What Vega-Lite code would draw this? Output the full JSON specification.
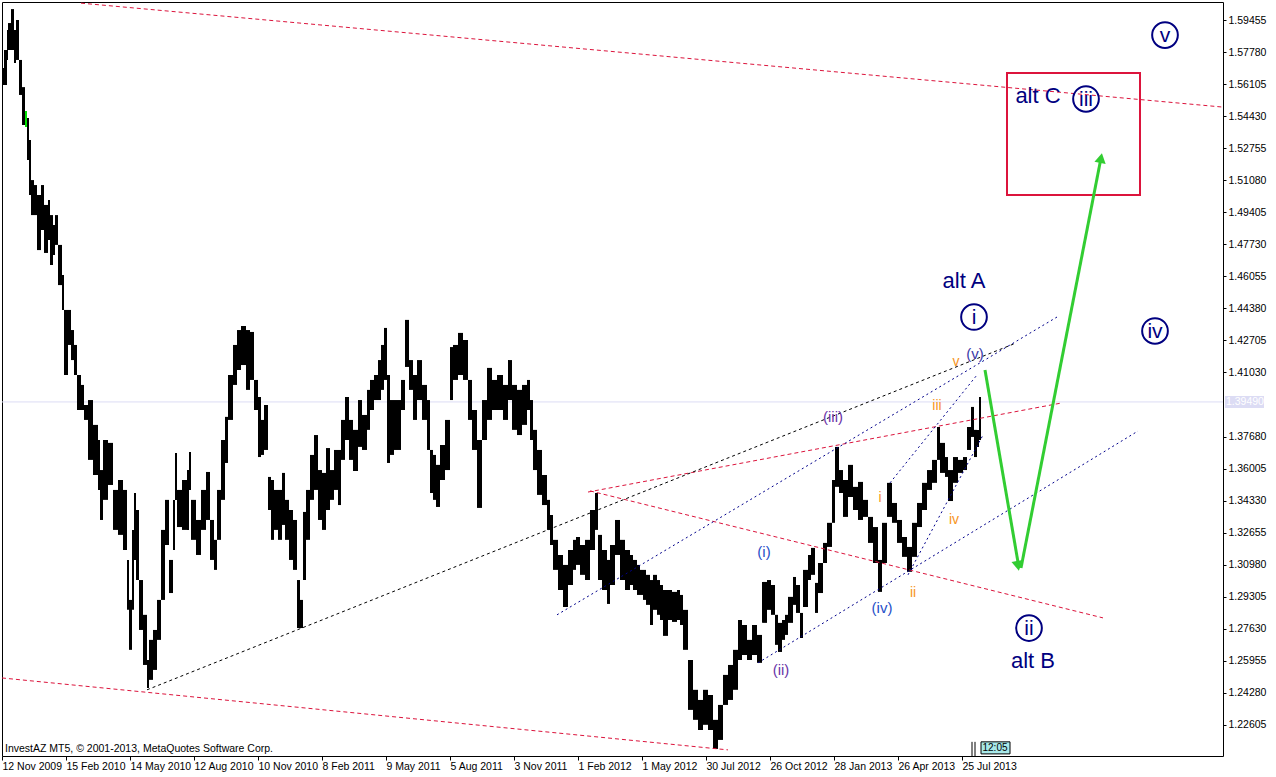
{
"$schema":"https://vega.github.io/schema/vega-lite/v6.json",
"width":1221,"height":754,"autosize":"none",
"padding":{"left":2,"top":2,"right":53,"bottom":21},
"background":"white",
"config":{"view":{"stroke":"black","strokeWidth":1},"font":"Liberation Sans",
"axis":{"labelFont":"Liberation Sans","labelFontSize":10.5,"labelColor":"black","tickColor":"black","domain":false,"grid":false,"title":null}},
"encoding":{
"x":{"field":"x","type":"quantitative","scale":{"domain":[0,1221],"nice":false,"zero":false},
"axis":{"orient":"bottom","values":[0,64,128,192,256,320,384,448,512,576,640,704,768,832,896,960],"tickSize":4,"labelAlign":"left","labelDx":2,"labelPadding":1,"labelBaseline":"top","labelFlush":false,"labelOverlap":false,"labelBound":false,
"labelExpr":"['12 Nov 2009','15 Feb 2010','14 May 2010','12 Aug 2010','10 Nov 2010','8 Feb 2011','9 May 2011','5 Aug 2011','3 Nov 2011','1 Feb 2012','1 May 2012','30 Jul 2012','26 Oct 2012','28 Jan 2013','26 Apr 2013','25 Jul 2013'][round(datum.value/64)]"}},
"y":{"field":"y","type":"quantitative","scale":{"domain":[1.2098,1.6040],"nice":false,"zero":false},
"axis":{"orient":"right","values":[1.22605,1.2428,1.25955,1.2763,1.29305,1.3098,1.32655,1.3433,1.36005,1.3768,1.4103,1.42705,1.4438,1.46055,1.4773,1.49405,1.5108,1.52755,1.5443,1.56105,1.5778,1.59455],"format":".5f","tickSize":3,"labelPadding":2,"labelOverlap":false,"labelFlush":false,"labelBound":false}}
},
"layer":[
{"data":{"values":[{"x":0,"x2":1221,"y":1.3949}]},"mark":{"type":"rule","color":"#dcdcf4","strokeWidth":1},"encoding":{"x2":{"field":"x2"}}},
{"data":{"values":[
{"x":0,"x2":2,"y":1.5695,"y2":1.5606},{"x":2,"x2":5,"y":1.5789,"y2":1.5606},{"x":5,"x2":6,"y":1.5893,"y2":1.5737},{"x":6,"x2":9,"y":1.5930,"y2":1.5789},{"x":9,"x2":12,"y":1.6003,"y2":1.5789},{"x":12,"x2":14,"y":1.5893,"y2":1.5721},{"x":14,"x2":17,"y":1.5946,"y2":1.5737},{"x":17,"x2":20,"y":1.5737,"y2":1.5554},{"x":20,"x2":23,"y":1.5595,"y2":1.5397},{"x":25,"x2":27,"y":1.5433,"y2":1.5214},{"x":27,"x2":29,"y":1.5318,"y2":1.5031},{"x":29,"x2":32,"y":1.5109,"y2":1.4926},{"x":32,"x2":35,"y":1.5083,"y2":1.4926},{"x":35,"x2":39,"y":1.5031,"y2":1.4743},{"x":39,"x2":42,"y":1.5083,"y2":1.4848},{"x":42,"x2":46,"y":1.4979,"y2":1.4728},{"x":46,"x2":48,"y":1.5005,"y2":1.4796},{"x":48,"x2":51,"y":1.4926,"y2":1.4665},{"x":51,"x2":53,"y":1.4874,"y2":1.4717},{"x":53,"x2":56,"y":1.4926,"y2":1.4770},{"x":56,"x2":60,"y":1.4770,"y2":1.4560},{"x":60,"x2":62,"y":1.4613,"y2":1.4430},{"x":62,"x2":66,"y":1.4430,"y2":1.4090},{"x":66,"x2":69,"y":1.4430,"y2":1.4247},{"x":69,"x2":72,"y":1.4325,"y2":1.4168},{"x":72,"x2":75,"y":1.4247,"y2":1.4090},{"x":75,"x2":79,"y":1.4090,"y2":1.3907},{"x":79,"x2":82,"y":1.4038,"y2":1.3907},{"x":82,"x2":86,"y":1.3933,"y2":1.3855},{"x":86,"x2":91,"y":1.3959,"y2":1.3646},{"x":91,"x2":96,"y":1.3829,"y2":1.3567},{"x":96,"x2":98,"y":1.3750,"y2":1.3489},{"x":98,"x2":101,"y":1.3593,"y2":1.3332},{"x":101,"x2":106,"y":1.3750,"y2":1.3437},{"x":106,"x2":111,"y":1.3735,"y2":1.3515},{"x":111,"x2":116,"y":1.3489,"y2":1.3280},{"x":116,"x2":121,"y":1.3541,"y2":1.3254},{"x":121,"x2":125,"y":1.3489,"y2":1.3175},{"x":125,"x2":127,"y":1.3123,"y2":1.2862},{"x":127,"x2":130,"y":1.2914,"y2":1.2653},{"x":130,"x2":132,"y":1.3280,"y2":1.2862},{"x":132,"x2":134,"y":1.3473,"y2":1.3123},{"x":134,"x2":137,"y":1.3384,"y2":1.3018},{"x":137,"x2":141,"y":1.3018,"y2":1.2757},{"x":141,"x2":145,"y":1.2836,"y2":1.2574},{"x":145,"x2":147,"y":1.2600,"y2":1.2454},{"x":147,"x2":151,"y":1.2705,"y2":1.2496},{"x":151,"x2":155,"y":1.2757,"y2":1.2548},{"x":155,"x2":159,"y":1.2914,"y2":1.2705},{"x":159,"x2":163,"y":1.3280,"y2":1.2914},{"x":163,"x2":167,"y":1.3437,"y2":1.3201},{"x":167,"x2":171,"y":1.3123,"y2":1.2950},{"x":171,"x2":173,"y":1.3437,"y2":1.3175},{"x":173,"x2":175,"y":1.3682,"y2":1.3437},{"x":175,"x2":180,"y":1.3489,"y2":1.3295},{"x":180,"x2":185,"y":1.3541,"y2":1.3280},{"x":185,"x2":187,"y":1.3593,"y2":1.3280},{"x":187,"x2":189,"y":1.3688,"y2":1.3489},{"x":189,"x2":194,"y":1.3437,"y2":1.3228},{"x":194,"x2":199,"y":1.3332,"y2":1.3149},{"x":199,"x2":204,"y":1.3489,"y2":1.3280},{"x":204,"x2":208,"y":1.3583,"y2":1.3332},{"x":208,"x2":212,"y":1.3332,"y2":1.3123},{"x":212,"x2":215,"y":1.3228,"y2":1.3071},{"x":215,"x2":219,"y":1.3489,"y2":1.3228},{"x":219,"x2":223,"y":1.3750,"y2":1.3437},{"x":223,"x2":226,"y":1.3871,"y2":1.3630},{"x":226,"x2":231,"y":1.4090,"y2":1.3855},{"x":231,"x2":235,"y":1.4247,"y2":1.4038},{"x":235,"x2":239,"y":1.4325,"y2":1.4116},{"x":239,"x2":244,"y":1.4346,"y2":1.4142},{"x":244,"x2":248,"y":1.4325,"y2":1.4012},{"x":248,"x2":252,"y":1.4315,"y2":1.4064},{"x":252,"x2":256,"y":1.4064,"y2":1.3907},{"x":256,"x2":259,"y":1.3975,"y2":1.3661},{"x":259,"x2":262,"y":1.3855,"y2":1.3672},{"x":262,"x2":266,"y":1.3933,"y2":1.3698},{"x":266,"x2":269,"y":1.3557,"y2":1.3384},{"x":269,"x2":272,"y":1.3541,"y2":1.3228},{"x":272,"x2":276,"y":1.3489,"y2":1.3280},{"x":276,"x2":280,"y":1.3489,"y2":1.3228},{"x":280,"x2":283,"y":1.3578,"y2":1.3306},{"x":283,"x2":287,"y":1.3437,"y2":1.3228},{"x":287,"x2":291,"y":1.3384,"y2":1.3123},{"x":291,"x2":295,"y":1.3332,"y2":1.3071},{"x":295,"x2":298,"y":1.3018,"y2":1.2767},{"x":298,"x2":301,"y":1.2914,"y2":1.2767},{"x":301,"x2":304,"y":1.3374,"y2":1.3018},{"x":304,"x2":308,"y":1.3489,"y2":1.3228},{"x":308,"x2":312,"y":1.3672,"y2":1.3437},{"x":312,"x2":316,"y":1.3776,"y2":1.3489},{"x":316,"x2":320,"y":1.3593,"y2":1.3332},{"x":320,"x2":324,"y":1.3578,"y2":1.3280},{"x":324,"x2":328,"y":1.3708,"y2":1.3384},{"x":328,"x2":332,"y":1.3593,"y2":1.3437},{"x":332,"x2":336,"y":1.3698,"y2":1.3489},{"x":336,"x2":339,"y":1.3698,"y2":1.3410},{"x":339,"x2":343,"y":1.3855,"y2":1.3646},{"x":343,"x2":347,"y":1.3975,"y2":1.3750},{"x":347,"x2":351,"y":1.3855,"y2":1.3646},{"x":351,"x2":356,"y":1.3803,"y2":1.3588},{"x":356,"x2":360,"y":1.3959,"y2":1.3714},{"x":360,"x2":365,"y":1.3881,"y2":1.3698},{"x":365,"x2":368,"y":1.4012,"y2":1.3803},{"x":368,"x2":372,"y":1.4064,"y2":1.3907},{"x":372,"x2":376,"y":1.4090,"y2":1.3959},{"x":376,"x2":379,"y":1.4168,"y2":1.3959},{"x":379,"x2":382,"y":1.4247,"y2":1.4012},{"x":382,"x2":385,"y":1.4336,"y2":1.4064},{"x":385,"x2":388,"y":1.4090,"y2":1.3630},{"x":388,"x2":392,"y":1.3959,"y2":1.3672},{"x":392,"x2":396,"y":1.3959,"y2":1.3698},{"x":396,"x2":399,"y":1.3959,"y2":1.3698},{"x":399,"x2":403,"y":1.4064,"y2":1.3907},{"x":403,"x2":407,"y":1.4378,"y2":1.4132},{"x":407,"x2":411,"y":1.4168,"y2":1.4012},{"x":411,"x2":415,"y":1.4090,"y2":1.3855},{"x":415,"x2":420,"y":1.4168,"y2":1.3959},{"x":420,"x2":425,"y":1.4038,"y2":1.3855},{"x":425,"x2":428,"y":1.3959,"y2":1.3698},{"x":428,"x2":431,"y":1.3698,"y2":1.3473},{"x":431,"x2":434,"y":1.3672,"y2":1.3437},{"x":434,"x2":438,"y":1.3620,"y2":1.3400},{"x":438,"x2":443,"y":1.3724,"y2":1.3541},{"x":443,"x2":448,"y":1.3855,"y2":1.3593},{"x":448,"x2":451,"y":1.4236,"y2":1.3959},{"x":451,"x2":456,"y":1.4247,"y2":1.4064},{"x":456,"x2":461,"y":1.4310,"y2":1.4090},{"x":461,"x2":466,"y":1.4273,"y2":1.4064},{"x":466,"x2":470,"y":1.4064,"y2":1.3855},{"x":470,"x2":475,"y":1.3907,"y2":1.3698},{"x":475,"x2":480,"y":1.3750,"y2":1.3395},{"x":480,"x2":485,"y":1.3959,"y2":1.3750},{"x":485,"x2":490,"y":1.4127,"y2":1.3855},{"x":490,"x2":495,"y":1.4064,"y2":1.3907},{"x":495,"x2":501,"y":1.4090,"y2":1.3907},{"x":501,"x2":506,"y":1.4038,"y2":1.3855},{"x":506,"x2":510,"y":1.4168,"y2":1.3959},{"x":510,"x2":515,"y":1.4038,"y2":1.3803},{"x":515,"x2":520,"y":1.4012,"y2":1.3776},{"x":520,"x2":525,"y":1.4038,"y2":1.3829},{"x":525,"x2":528,"y":1.4064,"y2":1.3907},{"x":528,"x2":531,"y":1.3959,"y2":1.3750},{"x":531,"x2":535,"y":1.3803,"y2":1.3593},{"x":535,"x2":540,"y":1.3698,"y2":1.3463},{"x":540,"x2":545,"y":1.3567,"y2":1.3410},{"x":545,"x2":548,"y":1.3437,"y2":1.3280},{"x":548,"x2":551,"y":1.3358,"y2":1.3201},{"x":551,"x2":556,"y":1.3228,"y2":1.3071},{"x":556,"x2":561,"y":1.3149,"y2":1.2966},{"x":561,"x2":566,"y":1.3097,"y2":1.2877},{"x":566,"x2":571,"y":1.3175,"y2":1.2992},{"x":571,"x2":574,"y":1.3228,"y2":1.3071},{"x":574,"x2":578,"y":1.3243,"y2":1.3097},{"x":578,"x2":583,"y":1.3201,"y2":1.3045},{"x":583,"x2":588,"y":1.3228,"y2":1.3018},{"x":588,"x2":593,"y":1.3384,"y2":1.3175},{"x":593,"x2":596,"y":1.3473,"y2":1.3280},{"x":596,"x2":600,"y":1.3254,"y2":1.3018},{"x":600,"x2":605,"y":1.3175,"y2":1.2966},{"x":605,"x2":608,"y":1.3123,"y2":1.2893},{"x":608,"x2":613,"y":1.3201,"y2":1.2992},{"x":613,"x2":618,"y":1.3332,"y2":1.3149},{"x":618,"x2":623,"y":1.3228,"y2":1.3018},{"x":623,"x2":628,"y":1.3175,"y2":1.2966},{"x":628,"x2":631,"y":1.3149,"y2":1.2992},{"x":631,"x2":635,"y":1.3123,"y2":1.2966},{"x":635,"x2":638,"y":1.3097,"y2":1.2940},{"x":638,"x2":641,"y":1.3071,"y2":1.2940},{"x":641,"x2":644,"y":1.3071,"y2":1.2914},{"x":644,"x2":648,"y":1.3045,"y2":1.2888},{"x":648,"x2":651,"y":1.3018,"y2":1.2783},{"x":651,"x2":655,"y":1.3045,"y2":1.2862},{"x":655,"x2":658,"y":1.3018,"y2":1.2836},{"x":658,"x2":661,"y":1.2992,"y2":1.2809},{"x":661,"x2":666,"y":1.2966,"y2":1.2726},{"x":666,"x2":670,"y":1.2966,"y2":1.2809},{"x":670,"x2":675,"y":1.2956,"y2":1.2799},{"x":675,"x2":678,"y":1.2966,"y2":1.2809},{"x":678,"x2":681,"y":1.2940,"y2":1.2783},{"x":681,"x2":686,"y":1.2862,"y2":1.2653},{"x":686,"x2":691,"y":1.2600,"y2":1.2339},{"x":691,"x2":696,"y":1.2444,"y2":1.2287},{"x":696,"x2":701,"y":1.2391,"y2":1.2234},{"x":701,"x2":706,"y":1.2444,"y2":1.2261},{"x":706,"x2":711,"y":1.2417,"y2":1.2234},{"x":711,"x2":716,"y":1.2287,"y2":1.2135},{"x":716,"x2":721,"y":1.2365,"y2":1.2182},{"x":721,"x2":726,"y":1.2522,"y2":1.2365},{"x":726,"x2":731,"y":1.2574,"y2":1.2391},{"x":731,"x2":736,"y":1.2653,"y2":1.2444},{"x":736,"x2":740,"y":1.2809,"y2":1.2600},{"x":740,"x2":745,"y":1.2783,"y2":1.2626},{"x":745,"x2":750,"y":1.2705,"y2":1.2600},{"x":750,"x2":755,"y":1.2783,"y2":1.2626},{"x":755,"x2":760,"y":1.2731,"y2":1.2585},{"x":760,"x2":765,"y":1.3008,"y2":1.2794},{"x":765,"x2":769,"y":1.3018,"y2":1.2862},{"x":769,"x2":773,"y":1.2992,"y2":1.2836},{"x":773,"x2":776,"y":1.2836,"y2":1.2679},{"x":776,"x2":780,"y":1.2794,"y2":1.2642},{"x":780,"x2":783,"y":1.2809,"y2":1.2705},{"x":783,"x2":786,"y":1.2836,"y2":1.2731},{"x":786,"x2":791,"y":1.2930,"y2":1.2794},{"x":791,"x2":794,"y":1.3034,"y2":1.2888},{"x":794,"x2":798,"y":1.2992,"y2":1.2846},{"x":798,"x2":801,"y":1.2846,"y2":1.2715},{"x":801,"x2":806,"y":1.3071,"y2":1.2877},{"x":806,"x2":809,"y":1.3149,"y2":1.3018},{"x":809,"x2":813,"y":1.3186,"y2":1.3045},{"x":813,"x2":816,"y":1.3003,"y2":1.2846},{"x":816,"x2":821,"y":1.3107,"y2":1.2950},{"x":821,"x2":825,"y":1.3212,"y2":1.3107},{"x":825,"x2":830,"y":1.3317,"y2":1.3191},{"x":830,"x2":833,"y":1.3541,"y2":1.3317},{"x":833,"x2":837,"y":1.3714,"y2":1.3505},{"x":837,"x2":841,"y":1.3593,"y2":1.3473},{"x":841,"x2":846,"y":1.3541,"y2":1.3348},{"x":846,"x2":851,"y":1.3620,"y2":1.3452},{"x":851,"x2":856,"y":1.3505,"y2":1.3384},{"x":856,"x2":861,"y":1.3531,"y2":1.3332},{"x":861,"x2":866,"y":1.3437,"y2":1.3348},{"x":866,"x2":871,"y":1.3348,"y2":1.3212},{"x":871,"x2":876,"y":1.3295,"y2":1.3107},{"x":876,"x2":880,"y":1.3123,"y2":1.2956},{"x":880,"x2":885,"y":1.3317,"y2":1.3107},{"x":885,"x2":890,"y":1.3526,"y2":1.3348},{"x":890,"x2":895,"y":1.3421,"y2":1.3317},{"x":895,"x2":900,"y":1.3332,"y2":1.3212},{"x":900,"x2":905,"y":1.3243,"y2":1.3139},{"x":905,"x2":910,"y":1.3191,"y2":1.3061},{"x":910,"x2":915,"y":1.3317,"y2":1.3139},{"x":915,"x2":920,"y":1.3421,"y2":1.3295},{"x":920,"x2":925,"y":1.3526,"y2":1.3384},{"x":925,"x2":930,"y":1.3593,"y2":1.3489},{"x":930,"x2":935,"y":1.3646,"y2":1.3526},{"x":935,"x2":938,"y":1.3818,"y2":1.3646},{"x":938,"x2":943,"y":1.3735,"y2":1.3578},{"x":943,"x2":946,"y":1.3661,"y2":1.3557},{"x":946,"x2":951,"y":1.3593,"y2":1.3431},{"x":951,"x2":956,"y":1.3661,"y2":1.3526},{"x":956,"x2":961,"y":1.3646,"y2":1.3578},{"x":961,"x2":965,"y":1.3661,"y2":1.3593},{"x":965,"x2":969,"y":1.3818,"y2":1.3698},{"x":969,"x2":972,"y":1.3923,"y2":1.3766},{"x":972,"x2":975,"y":1.3803,"y2":1.3661},{"x":975,"x2":977,"y":1.3803,"y2":1.3714},{"x":977,"x2":979,"y":1.3975,"y2":1.3750}
]},"mark":{"type":"rect","color":"black"},"encoding":{"x2":{"field":"x2"},"y2":{"field":"y2"}}},
{"data":{"values":[{"x":23,"x2":25,"y":1.5470,"y2":1.5386}]},"mark":{"type":"rect","color":"#00e000"},"encoding":{"x2":{"field":"x2"},"y2":{"field":"y2"}}},
{"data":{"values":[{"x":79,"y":1.6034,"x2":1220,"y2":1.5491},{"x":0,"y":1.2506,"x2":726,"y2":1.2130},{"x":588,"y":1.3484,"x2":1101,"y2":1.2820},{"x":586,"y":1.3478,"x2":1060,"y2":1.3944}]},"mark":{"type":"rule","color":"#dc143c","strokeDash":[4,3],"strokeWidth":1},"encoding":{"x2":{"field":"x2"},"y2":{"field":"y2"}}},
{"data":{"values":[{"x":145,"y":1.2444,"x2":1014,"y2":1.4257}]},"mark":{"type":"rule","color":"black","strokeDash":[3,3],"strokeWidth":1},"encoding":{"x2":{"field":"x2"},"y2":{"field":"y2"}}},
{"data":{"values":[{"x":756,"y":1.2585,"x2":1136,"y2":1.3797},{"x":555,"y":1.2836,"x2":1055,"y2":1.4393},{"x":888,"y":1.3526,"x2":975,"y2":1.4090},{"x":906,"y":1.3045,"x2":981,"y2":1.3776}]},"mark":{"type":"rule","color":"#00008b","strokeDash":[2,3],"strokeWidth":1},"encoding":{"x2":{"field":"x2"},"y2":{"field":"y2"}}},
{"data":{"values":[{"x":1005,"x2":1138,"y":1.5669,"y2":1.5031}]},"mark":{"type":"rect","fill":null,"fillOpacity":0,"stroke":"#dc143c","strokeWidth":2},"encoding":{"x2":{"field":"x2"},"y2":{"field":"y2"}}},
{"data":{"values":[{"x":983,"y":1.4116,"x2":1017,"y2":1.3081},{"x":1019,"y":1.3081,"x2":1099,"y2":1.5224}]},"mark":{"type":"rule","color":"#32cd32","strokeWidth":3},"encoding":{"x2":{"field":"x2"},"y2":{"field":"y2"}}},
{"data":{"values":[{"x":1016,"y":1.3092,"shape":"triangle-down","ang":-10},{"x":1099,"y":1.5224,"shape":"triangle-up","ang":11}]},"mark":{"type":"point","filled":true,"color":"#32cd32","size":130,"opacity":1},"encoding":{"shape":{"field":"shape","type":"nominal","scale":null},"angle":{"field":"ang","type":"quantitative","scale":null}}},
{"data":{"values":[{"x":1084,"y":1.5533},{"x":972,"y":1.4393},{"x":1153,"y":1.4320},{"x":1163,"y":1.5867},{"x":1027,"y":1.2767}]},"mark":{"type":"point","shape":"circle","filled":false,"color":"#000080","size":660,"strokeWidth":2,"opacity":1}},
{"data":{"values":[{"x":1084,"y":1.5533,"t":"iii"},{"x":972,"y":1.4393,"t":"i"},{"x":1153,"y":1.4320,"t":"iv"},{"x":1163,"y":1.5867,"t":"v"},{"x":1027,"y":1.2767,"t":"ii"}]},"mark":{"type":"text","color":"#000080","fontSize":21,"align":"center","baseline":"middle","dy":1},"encoding":{"text":{"field":"t"}}},
{"data":{"values":[{"x":1036,"y":1.5548,"t":"alt C"},{"x":962,"y":1.4581,"t":"alt A"},{"x":1031,"y":1.2595,"t":"alt B"}]},"mark":{"type":"text","color":"#000080","fontSize":22,"align":"center","baseline":"middle"},"encoding":{"text":{"field":"t"}}},
{"data":{"values":[{"x":762,"y":1.3165,"t":"(i)"},{"x":880,"y":1.2872,"t":"(iv)"}]},"mark":{"type":"text","color":"#1f4fc8","fontSize":15,"align":"center","baseline":"middle"},"encoding":{"text":{"field":"t"}}},
{"data":{"values":[{"x":779,"y":1.2548,"t":"(ii)"},{"x":831,"y":1.3871,"t":"(iii)"}]},"mark":{"type":"text","color":"#6a35a8","fontSize":15,"align":"center","baseline":"middle"},"encoding":{"text":{"field":"t"}}},
{"data":{"values":[{"x":973,"y":1.4200,"t":"(v)"}]},"mark":{"type":"text","color":"#3a3aa8","fontSize":15,"align":"center","baseline":"middle"},"encoding":{"text":{"field":"t"}}},
{"data":{"values":[{"x":954,"y":1.4158,"t":"v"},{"x":935,"y":1.3928,"t":"iii"},{"x":878,"y":1.3447,"t":"i"},{"x":952,"y":1.3332,"t":"iv"},{"x":911,"y":1.2950,"t":"ii"}]},"mark":{"type":"text","color":"#f7941d","fontSize":14,"align":"center","baseline":"middle"},"encoding":{"text":{"field":"t"}}},
{"data":{"values":[{"x":3,"y":1.2135,"t":"InvestAZ MT5, © 2001-2013, MetaQuotes Software Corp."}]},"mark":{"type":"text","color":"black","fontSize":10.5,"align":"left","baseline":"middle"},"encoding":{"text":{"field":"t"}}},
{"data":{"values":[{"x":970,"y":1.2172,"y2":1.2098},{"x":973,"y":1.2172,"y2":1.2098}]},"mark":{"type":"rule","color":"black","strokeWidth":1},"encoding":{"y2":{"field":"y2"}}},
{"data":{"values":[{"x":979,"x2":1008,"y":1.2172,"y2":1.2109}]},"mark":{"type":"rect","fill":"#a8e8e8","stroke":"black","strokeWidth":1},"encoding":{"x2":{"field":"x2"},"y2":{"field":"y2"}}},
{"data":{"values":[{"x":993,"y":1.2140,"t":"12:05"}]},"mark":{"type":"text","color":"black","fontSize":10,"align":"center","baseline":"middle"},"encoding":{"text":{"field":"t"}}},
{"data":{"values":[{"x":1223,"x2":1262,"y":1.3980,"y2":1.3917}]},"mark":{"type":"rect","fill":"#dcdcf4"},"encoding":{"x2":{"field":"x2"},"y2":{"field":"y2"}}},
{"data":{"values":[{"x":1224,"y":1.3949,"t":"1.39490"}]},"mark":{"type":"text","color":"white","fontSize":10.5,"align":"left","baseline":"middle"},"encoding":{"text":{"field":"t"}}}
]
}
